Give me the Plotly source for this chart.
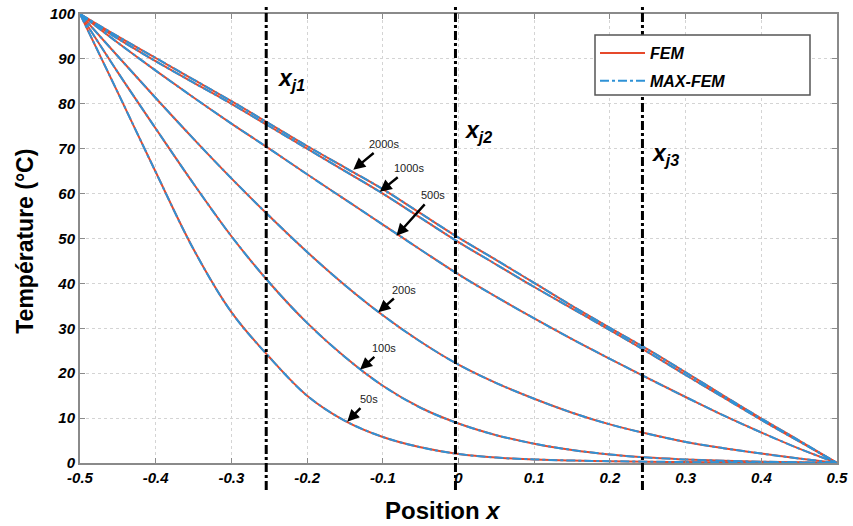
import plotly.graph_objects as go

# ---------------- data ----------------
positions = [-0.5, -0.45, -0.4, -0.35, -0.3, -0.25, -0.2, -0.15, -0.1, -0.05, 0,
             0.05, 0.1, 0.15, 0.2, 0.25, 0.3, 0.35, 0.4, 0.45, 0.5]

temp_50s = [100, 82.5, 64.8, 47.6, 33.6, 23.6, 15.0, 9.4, 5.8, 3.5, 2.0,
            1.2, 0.8, 0.55, 0.4, 0.3, 0.2, 0.15, 0.1, 0.05, 0]
temp_100s = [100, 87, 74.5, 62.2, 50.5, 40.2, 31.2, 23.6, 17.2, 12.3, 8.8,
             6.2, 4.3, 2.9, 1.9, 1.2, 0.8, 0.5, 0.3, 0.15, 0]
temp_200s = [100, 90.6, 81.3, 72.2, 63.4, 55.0, 47.0, 39.6, 32.9, 27.0, 21.9,
             17.8, 14.3, 11.2, 8.6, 6.5, 4.7, 3.3, 2.1, 1.0, 0]
temp_500s = [100, 93.6, 87.4, 81.4, 75.6, 70.0, 64.3, 58.7, 53.1, 47.5, 42.0,
             37.0, 32.2, 27.6, 23.2, 18.9, 14.7, 10.6, 6.8, 3.2, 0]
temp_1000s = [100, 94.5, 89.5, 84.7, 80, 75, 70, 65, 60, 54.6, 49.2,
              44.2, 39.2, 34.4, 29.6, 24.7, 19.6, 14.6, 9.6, 4.8, 0]
temp_2000s = [100, 95, 90.2, 85.4, 80.6, 75.6, 70.6, 65.8, 61, 55.6, 50.2,
              45.2, 40.1, 35, 30.1, 25.3, 20.2, 15.0, 9.9, 5.0, 0]

series_names = ["50s", "100s", "200s", "500s", "1000s", "2000s"]
series_values = [temp_50s, temp_100s, temp_200s, temp_500s, temp_1000s, temp_2000s]

# time labels: text position and arrow tip position (data coords)
label_text = ["2000s", "1000s", "500s", "200s", "100s", "50s"]
label_x = [-0.098, -0.066, -0.034, -0.072, -0.098, -0.118]
label_y = [71.0, 65.6, 59.6, 38.6, 25.6, 14.2]
tip_x = [-0.139, -0.104, -0.082, -0.106, -0.130, -0.147]
tip_y = [65.3, 60.4, 50.6, 33.6, 20.8, 9.2]

joint_x = [-0.254, -0.004, 0.243]
joint_labels = ["x<sub>j1</sub>", "x<sub>j2</sub>", "x<sub>j3</sub>"]
joint_label_x = [-0.242, 0.005, 0.252]
joint_label_y = [85.5, 73.8, 68.7]

x_ticks = [-0.5, -0.4, -0.3, -0.2, -0.1, 0, 0.1, 0.2, 0.3, 0.4, 0.5]
x_tick_labels = ["-0.5", "-0.4", "-0.3", "-0.2", "-0.1", "0", "0.1", "0.2", "0.3", "0.4", "0.5"]
y_ticks = [0, 10, 20, 30, 40, 50, 60, 70, 80, 90, 100]

RED = "#e6492b"
BLUE = "#2f92d6"
FONT = "Liberation Sans, Arial"

# plot area in pixels (left, right, top, bottom)
PL, PR, PT, PB = 80, 837, 14, 463.5
PW, PH = PR - PL, PB - PT


def px_x(p):
    return (p - PL) / PW


def px_y(p):
    return (PB - p) / PH


fig = go.Figure()

for i, (name, vals) in enumerate(zip(series_names, series_values)):
    fig.add_trace(go.Scatter(
        x=positions, y=vals, mode="lines",
        line=dict(color=RED, width=2, shape="spline", smoothing=1.0),
        name="<b><i>FEM</i></b>", legendgroup="FEM", showlegend=(i == 0), hoverinfo="skip"))
for i, (name, vals) in enumerate(zip(series_names, series_values)):
    fig.add_trace(go.Scatter(
        x=positions, y=vals, mode="lines",
        line=dict(color=BLUE, width=2, dash="dashdot", shape="spline", smoothing=1.0),
        name="<b><i>MAX-FEM</i></b>", legendgroup="MAXFEM", showlegend=(i == 0), hoverinfo="skip"))

# vertical joint lines
for xv in joint_x:
    fig.add_shape(type="line", xref="x", yref="paper", x0=xv, x1=xv, y0=-0.06, y1=1.02,
                  line=dict(color="black", width=3, dash="dashdot"), layer="above")

# legend box
fig.add_shape(type="rect", xref="paper", yref="paper",
              x0=px_x(595), x1=px_x(810), y0=px_y(95), y1=px_y(35),
              fillcolor="white", line=dict(color="#555", width=1.5), layer="above")

for t, xx, yy in zip(joint_labels, joint_label_x, joint_label_y):
    fig.add_annotation(x=xx, y=yy, text="<b><i>" + t + "</i></b>", showarrow=False,
                       xanchor="left", yanchor="middle",
                       font=dict(family=FONT, size=23, color="black"))

for t, lx, ly, tx, ty in zip(label_text, label_x, label_y, tip_x, tip_y):
    fig.add_annotation(x=tx, y=ty, ax=lx, ay=ly, axref="x", ayref="y", xref="x", yref="y",
                       text=t, showarrow=True, arrowhead=2, arrowsize=1, arrowwidth=2.4,
                       arrowcolor="black", standoff=0, startstandoff=2,
                       font=dict(family=FONT, size=11, color="#222"))

# axis titles
fig.add_annotation(x=px_x(442.5), y=px_y(511.5), xref="paper", yref="paper",
                   text="<b>Position <i>x</i></b>", showarrow=False,
                   xanchor="center", yanchor="middle",
                   font=dict(family=FONT, size=24, color="black"))
fig.add_annotation(x=px_x(25), y=px_y(242), xref="paper", yref="paper",
                   text="<b>Température (°C)</b>", showarrow=False, textangle=-90,
                   xanchor="center", yanchor="middle",
                   font=dict(family=FONT, size=23, color="black"))

fig.update_layout(
    width=853, height=526,
    margin=dict(l=PL, r=853 - PR, t=PT, b=526 - PB, autoexpand=False),
    paper_bgcolor="white", plot_bgcolor="white",
    showlegend=True,
    legend=dict(x=px_x(595), y=px_y(36), xanchor="left", yanchor="top",
                bgcolor="rgba(0,0,0,0)", borderwidth=0,
                font=dict(family=FONT, size=16, color="black"),
                itemwidth=45, tracegroupgap=4),
    font=dict(family=FONT, color="black"),
)

axis_common = dict(
    tickfont=dict(size=15, family=FONT, color="black"),
    showgrid=True, gridcolor="#d4d4d4", griddash="dot", gridwidth=1,
    showline=True, linecolor="#8a8a8a", linewidth=2, mirror="ticks",
    ticks="inside", ticklen=5, tickcolor="#8a8a8a", zeroline=False, automargin=False)

fig.update_xaxes(range=[-0.5, 0.5], tickvals=x_ticks,
                 ticktext=["<b><i>" + s + "</i></b>" for s in x_tick_labels], **axis_common)
fig.update_yaxes(range=[0, 100], tickvals=y_ticks,
                 ticktext=["<b><i>" + str(v) + "</i></b>" for v in y_ticks], **axis_common)

fig.write_html("out.html", config={"displayModeBar": False},
               post_script="document.body.style.margin='0px';")
